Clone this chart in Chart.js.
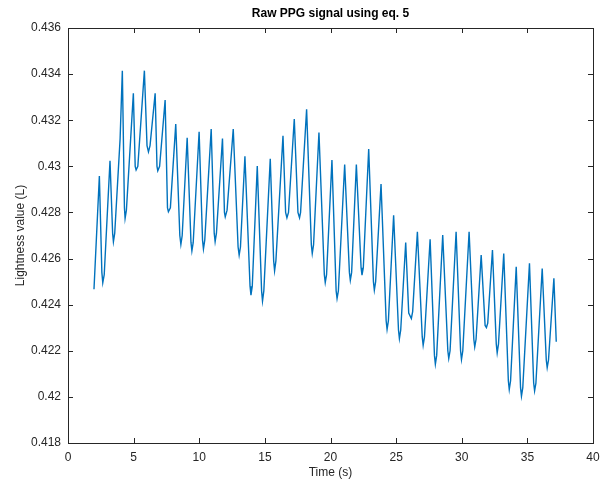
<!DOCTYPE html>
<html>
<head>
<meta charset="utf-8">
<script src="https://cdn.jsdelivr.net/npm/chart.js@4.4.1/dist/chart.umd.min.js"></script>
<style>
  body { margin: 0; background: #fff; }
  #wrap { width: 600px; height: 484px; }
</style>
</head>
<body>
<div id="wrap"><canvas id="ppgChart" width="600" height="484"></canvas></div>
<script>
const chartTitle = "Raw PPG signal using eq. 5";
const xLabel = "Time (s)";
const yLabel = "Lightness value (L)";

const xTicks = [0, 5, 10, 15, 20, 25, 30, 35, 40];
const yTicks = [0.418, 0.42, 0.422, 0.424, 0.426, 0.428, 0.43, 0.432, 0.434, 0.436];

// time (s): peaks, troughs and the bends around troughs
const times = [
  1.98,
  2.39, 2.58, 2.65, 2.76,
  3.20, 3.40, 3.46, 3.56, 3.97,
  4.14, 4.30, 4.35, 4.45,
  4.98, 5.12, 5.19, 5.32,
  5.82, 6.02, 6.13, 6.25,
  6.64, 6.78, 6.84, 6.98,
  7.40, 7.58, 7.65, 7.80,
  8.21, 8.52, 8.60, 8.70,
  9.08, 9.37, 9.44, 9.54,
  9.99, 10.25, 10.32, 10.42,
  10.91, 11.14, 11.21, 11.31,
  11.77, 11.92, 11.98, 12.12,
  12.59, 12.96, 13.04, 13.14,
  13.48, 13.87, 13.94, 14.04,
  14.42, 14.75, 14.82, 14.92,
  15.41, 15.67, 15.74, 15.84,
  16.38, 16.58, 16.68, 16.80,
  17.24, 17.52, 17.64, 17.72,
  18.18, 18.54, 18.61, 18.71,
  19.12, 19.53, 19.60, 19.70,
  20.11, 20.43, 20.50, 20.60,
  21.08, 21.44, 21.51, 21.61,
  21.97, 22.33, 22.40, 22.50,
  22.91, 23.27, 23.34, 23.44,
  23.85, 24.24, 24.31, 24.41,
  24.81, 25.18, 25.25, 25.35,
  25.73, 25.96, 26.16, 26.26,
  26.62, 26.99, 27.06, 27.16,
  27.59, 27.92, 27.99, 28.09,
  28.55, 28.94, 29.01, 29.11,
  29.57, 29.91, 29.98, 30.08,
  30.56, 30.92, 30.99, 31.09,
  31.48, 31.78, 31.88, 31.98,
  32.34, 32.63, 32.70, 32.80,
  33.20, 33.55, 33.62, 33.72,
  34.15, 34.48, 34.55, 34.65,
  35.16, 35.48, 35.55, 35.65,
  36.13, 36.44, 36.51, 36.61,
  37.02, 37.20
];

// lightness value L at those times
const lightness = [
  0.42467,
  0.42958, 0.4254, 0.42495, 0.4253,
  0.43024, 0.4271, 0.42673, 0.4271, 0.4312,
  0.43415, 0.4282, 0.42774, 0.4281,
  0.43317, 0.4300, 0.42984, 0.4300,
  0.43415, 0.4309, 0.43063, 0.4309,
  0.43317, 0.4300, 0.42981, 0.4300,
  0.43288, 0.4282, 0.42803, 0.4282,
  0.43183, 0.4270, 0.42661, 0.4270,
  0.43124, 0.4267, 0.42633, 0.4267,
  0.4315, 0.4268, 0.42642, 0.4268,
  0.43162, 0.4271, 0.42673, 0.4271,
  0.43121, 0.4280, 0.42781, 0.4281,
  0.43162, 0.4265, 0.42615, 0.4265,
  0.43044, 0.4248, 0.42441, 0.4248,
  0.43001, 0.4246, 0.42416, 0.4246,
  0.43033, 0.4259, 0.42547, 0.4259,
  0.43133, 0.4280, 0.42777, 0.4280,
  0.43205, 0.4280, 0.42777, 0.4280,
  0.43247, 0.4266, 0.42622, 0.4266,
  0.43147, 0.4253, 0.42496, 0.4253,
  0.43027, 0.4246, 0.42427, 0.4246,
  0.43008, 0.4254, 0.42506, 0.4254,
  0.43008, 0.4256, 0.42528, 0.4256,
  0.43075, 0.4250, 0.42463, 0.4250,
  0.42923, 0.4233, 0.42293, 0.4233,
  0.42788, 0.4229, 0.42253, 0.4229,
  0.4267, 0.42364, 0.4234, 0.4237,
  0.42716, 0.4226, 0.42224, 0.4226,
  0.42684, 0.4218, 0.42142, 0.4218,
  0.42702, 0.4220, 0.42167, 0.4220,
  0.42716, 0.4220, 0.42162, 0.4220,
  0.42716, 0.4225, 0.42217, 0.4225,
  0.42615, 0.4231, 0.42301, 0.4232,
  0.42637, 0.4223, 0.42191, 0.4223,
  0.42622, 0.4207, 0.42032, 0.4207,
  0.42564, 0.4204, 0.42003, 0.4204,
  0.42579, 0.4206, 0.42026, 0.4206,
  0.42557, 0.4216, 0.42127, 0.4216,
  0.42514, 0.42239
];

const axisColor = "#262626";
const fontFamily = "'Liberation Sans', Arial, Helvetica, sans-serif";

// matlab look: closed box, ticks pointing inwards, title over the plot area
const matlabBox = {
  id: "matlabBox",
  afterDraw(chart) {
    const ctx = chart.ctx;
    const a = chart.chartArea;
    const xs = chart.scales.x;
    const ys = chart.scales.y;
    const len = 5;
    ctx.save();
    ctx.strokeStyle = axisColor;
    ctx.lineWidth = 1;
    ctx.beginPath();
    xs.ticks.forEach(function(t) {
      const px = Math.round(xs.getPixelForValue(t.value)) + 0.5;
      ctx.moveTo(px, a.bottom);
      ctx.lineTo(px, a.bottom - len);
      ctx.moveTo(px, a.top);
      ctx.lineTo(px, a.top + len);
    });
    ys.ticks.forEach(function(t) {
      const py = Math.round(ys.getPixelForValue(t.value)) + 0.5;
      ctx.moveTo(a.left, py);
      ctx.lineTo(a.left + len, py);
      ctx.moveTo(a.right, py);
      ctx.lineTo(a.right - len, py);
    });
    ctx.stroke();
    ctx.strokeRect(Math.round(a.left) + 0.5, Math.round(a.top) + 0.5,
      Math.round(a.right) - Math.round(a.left), Math.round(a.bottom) - Math.round(a.top));

    ctx.fillStyle = "#000";
    ctx.font = "bold 12px " + fontFamily;
    ctx.textAlign = "center";
    ctx.textBaseline = "middle";
    ctx.fillText(chartTitle, (a.left + a.right) / 2, 14);
    ctx.restore();
  }
};

const points = times.map((t, i) => ({ x: t, y: lightness[i] }));

const ctx = document.getElementById("ppgChart").getContext("2d");

const ppgChart = new Chart(ctx, {
  type: "line",
  data: {
    datasets: [
      {
        label: "L",
        data: points,
        borderColor: "#0072BD",
        borderWidth: 1.4,
        pointRadius: 0,
        tension: 0,
        fill: false,
      },
    ],
  },
  options: {
    responsive: false,
    animation: false,
    layout: { padding: { top: 28, left: 0, right: 7, bottom: 0 } },
    plugins: {
      legend: { display: false },
      title: { display: false },
      tooltip: { enabled: false },
    },
    scales: {
      x: {
        type: "linear",
        min: 0,
        max: 40,
        grid: { display: false, drawTicks: false },
        border: { display: false },
        afterBuildTicks: function(scale) {
          scale.ticks = xTicks.map((v) => ({ value: v }));
        },
        afterFit: function(scale) {
          // let the "40" run off the edge like the original
          scale.height = 41;
          scale.paddingRight = 0;
          scale.paddingLeft = 0;
        },
        ticks: {
          padding: 7,
          color: axisColor,
          font: { family: fontFamily, size: 12 },
          maxRotation: 0,
          callback: (v) => String(v),
        },
        title: {
          display: true,
          text: xLabel,
          color: axisColor,
          font: { family: fontFamily, size: 12 },
          padding: { top: 1, bottom: 4 },
        },
      },
      y: {
        min: 0.418,
        max: 0.436,
        grid: { display: false, drawTicks: false },
        border: { display: false },
        afterBuildTicks: function(scale) {
          scale.ticks = yTicks.map((v) => ({ value: v }));
        },
        afterFit: function(scale) {
          scale.width = 68;
        },
        ticks: {
          padding: 7,
          color: axisColor,
          font: { family: fontFamily, size: 12 },
          callback: (v) => String(v),
        },
        title: {
          display: true,
          text: yLabel,
          color: axisColor,
          font: { family: fontFamily, size: 12 },
          padding: { top: 13, bottom: 0 },
        },
      },
    },
  },
  plugins: [matlabBox],
});
</script>
</body>
</html>
